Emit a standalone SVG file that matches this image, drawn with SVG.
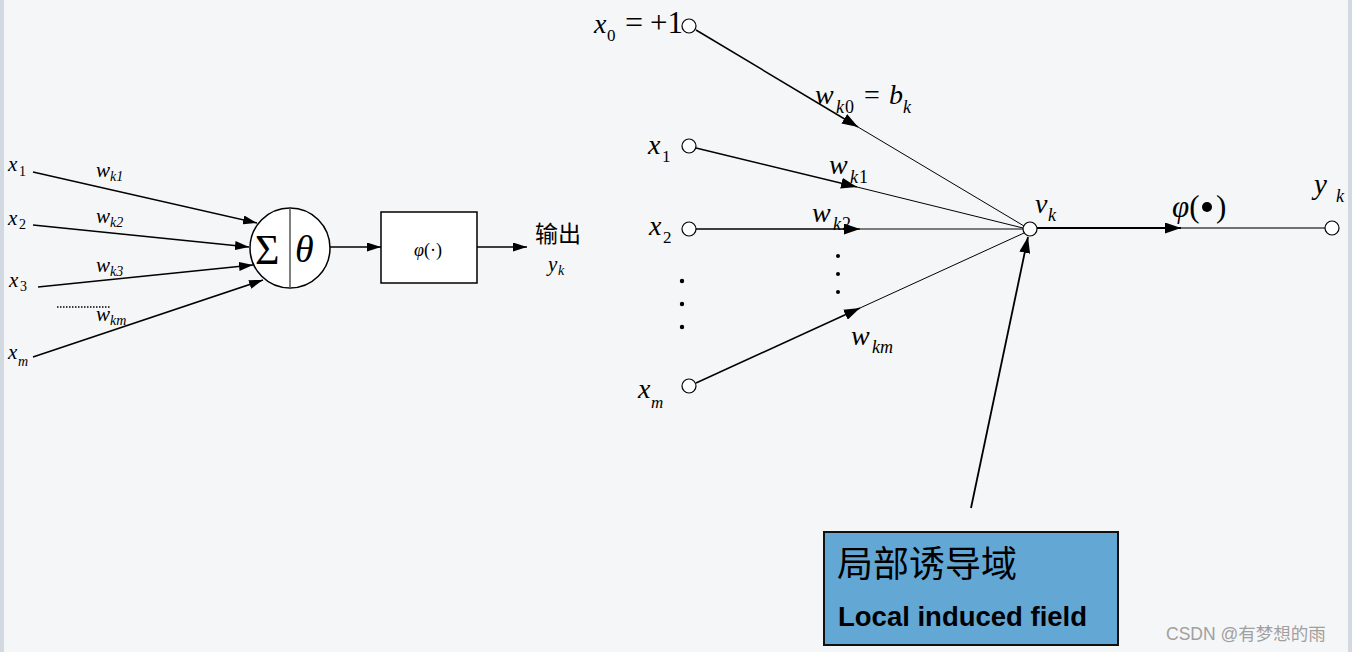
<svg xmlns="http://www.w3.org/2000/svg" width="1352" height="652" viewBox="0 0 1352 652">
<defs>
<style>
.it{font-family:"Liberation Serif",serif;font-style:italic;fill:#000}
.rm{font-family:"Liberation Serif",serif;fill:#000}
.ln{stroke:#000;fill:none}
.nd{fill:#fff;stroke:#000;stroke-width:1.2}
</style>
<marker id="ahs" viewBox="0 0 14 9" refX="14" refY="4.5" markerWidth="14" markerHeight="9" orient="auto" markerUnits="userSpaceOnUse"><path d="M0,0 L14,4.5 L0,9 z" fill="#000"/></marker>
<marker id="ahb" viewBox="0 0 16 11" refX="16" refY="5.5" markerWidth="16" markerHeight="11" orient="auto" markerUnits="userSpaceOnUse"><path d="M0,0 L16,5.5 L0,11 z" fill="#000"/></marker>
</defs>
<rect width="1352" height="652" fill="#f5f6f7"/>
<rect x="0" y="0" width="4" height="652" fill="#d3d9e0"/>
<rect x="1348" y="0" width="4" height="652" fill="#d3d9e0"/>

<!-- LEFT DIAGRAM -->
<g id="left-inputs">
<text class="it" x="8" y="171" font-size="21">x</text><text class="rm" x="19" y="176" font-size="14">1</text>
<text class="it" x="8" y="225" font-size="21">x</text><text class="rm" x="19" y="229" font-size="14">2</text>
<text class="it" x="9" y="287" font-size="21">x</text><text class="rm" x="20" y="291" font-size="14">3</text>
<text class="it" x="8" y="359" font-size="21">x</text><text class="it" x="18" y="366" font-size="14">m</text>
</g>
<g id="left-weights">
<text class="it" x="96" y="177" font-size="21">w</text><text class="it" x="110" y="181" font-size="14">k1</text>
<text class="it" x="96" y="223" font-size="21">w</text><text class="it" x="110" y="227" font-size="14">k2</text>
<text class="it" x="96" y="272" font-size="21">w</text><text class="it" x="110" y="276" font-size="14">k3</text>
<text class="it" x="96" y="321" font-size="21">w</text><text class="it" x="110" y="325" font-size="14">km</text>
<line x1="57" y1="307" x2="110" y2="307" stroke="#000" stroke-width="1.3" stroke-dasharray="1.5,1.5"/>
</g>
<g id="left-connectors">
<line class="ln" x1="33" y1="172" x2="257" y2="223" stroke-width="1.5" marker-end="url(#ahs)"/>
<line class="ln" x1="33" y1="225" x2="249" y2="247" stroke-width="1.5" marker-end="url(#ahs)"/>
<line class="ln" x1="38" y1="287" x2="253" y2="265" stroke-width="1.5" marker-end="url(#ahs)"/>
<line class="ln" x1="33" y1="357" x2="263" y2="280" stroke-width="1.5" marker-end="url(#ahs)"/>
<line class="ln" x1="330" y1="247" x2="381" y2="247" stroke-width="1.5" marker-end="url(#ahs)"/>
<line class="ln" x1="477" y1="247" x2="527" y2="247" stroke-width="1.5" marker-end="url(#ahs)"/>
</g>
<g id="sum-node">
<circle cx="290" cy="248" r="40" fill="#fff" stroke="#000" stroke-width="1.5"/>
<line x1="290" y1="208" x2="290" y2="288" stroke="#555" stroke-width="1.5"/>
<text class="rm" x="255" y="264" font-size="42">Σ</text>
<text class="it" x="295" y="262" font-size="38">θ</text>
</g>
<g id="phi-box">
<rect x="381" y="212" width="96" height="71" fill="#fff" stroke="#000" stroke-width="1.5"/>
<text class="it" x="414" y="256" font-size="18">φ<tspan font-style="normal">(·)</tspan></text>
</g>
<g id="output-left">
<text x="535" y="242" font-size="23" font-family="'Noto Sans CJK SC',sans-serif" fill="#000">输出</text>
<text class="it" x="548" y="271" font-size="21">y</text><text class="it" x="558" y="275" font-size="14">k</text>
</g>

<!-- RIGHT DIAGRAM -->
<g id="right-labels">
<text class="it" x="594" y="33" font-size="28">x</text><text class="rm" x="607" y="41" font-size="17">0</text>
<text class="rm" x="625" y="33" font-size="32">=</text><text class="rm" x="650" y="33" font-size="31">+1</text>
<text class="it" x="648" y="154" font-size="28">x</text><text class="rm" x="662" y="162" font-size="17">1</text>
<text class="it" x="649" y="235" font-size="28">x</text><text class="rm" x="663" y="243" font-size="17">2</text>
<text class="it" x="638" y="398" font-size="28">x</text><text class="it" x="651" y="408" font-size="17">m</text>
<text class="it" x="815" y="104" font-size="28">w</text><text class="it" x="836" y="113" font-size="18">k</text><text class="rm" x="845" y="113" font-size="18">0</text>
<text class="rm" x="864" y="104" font-size="28">=</text><text class="it" x="889" y="104" font-size="28">b</text><text class="it" x="903" y="113" font-size="18">k</text>
<text class="it" x="829" y="174" font-size="28">w</text><text class="it" x="850" y="183" font-size="18">k</text><text class="rm" x="859" y="183" font-size="18">1</text>
<text class="it" x="812" y="222" font-size="28">w</text><text class="it" x="833" y="230" font-size="18">k</text><text class="rm" x="842" y="230" font-size="18">2</text>
<text class="it" x="851" y="345" font-size="28">w</text><text class="it" x="872" y="353" font-size="18">km</text>
<text class="it" x="1035" y="213" font-size="28">v</text><text class="it" x="1048" y="221" font-size="18">k</text>
<text class="it" x="1172" y="217" font-size="31">φ<tspan font-style="normal">(</tspan></text>
<circle cx="1207" cy="207" r="5"/>
<text class="rm" x="1216" y="217" font-size="31">)</text>
<text class="it" x="1314" y="194" font-size="29">y</text><text class="it" x="1336" y="202" font-size="18">k</text>
</g>
<g id="dots">
<circle cx="682" cy="281" r="2.2"/><circle cx="682" cy="304" r="2.2"/><circle cx="682" cy="327" r="2.2"/>
<circle cx="838" cy="256" r="2"/><circle cx="838" cy="274" r="2"/><circle cx="838" cy="292" r="2"/>
</g>
<g id="right-connectors">
<line class="ln" x1="696" y1="30" x2="858" y2="127" stroke-width="1.5" marker-end="url(#ahb)"/>
<line class="ln" x1="858" y1="127" x2="1024" y2="226" stroke-width="1"/>
<line class="ln" x1="696" y1="148" x2="857" y2="187" stroke-width="1.5" marker-end="url(#ahb)"/>
<line class="ln" x1="857" y1="187" x2="1023" y2="228" stroke-width="1"/>
<line class="ln" x1="696" y1="229" x2="860" y2="229" stroke-width="1.5" marker-end="url(#ahb)"/>
<line class="ln" x1="860" y1="229" x2="1023" y2="229" stroke-width="1"/>
<line class="ln" x1="696" y1="383" x2="860" y2="308" stroke-width="1.5" marker-end="url(#ahb)"/>
<line class="ln" x1="860" y1="308" x2="1024" y2="233" stroke-width="1"/>
<line class="ln" x1="1037" y1="228" x2="1181" y2="228" stroke-width="2.2" marker-end="url(#ahb)"/>
<line x1="1181" y1="228" x2="1325" y2="228" stroke="#444" stroke-width="1.3"/>
<line class="ln" x1="971" y1="508" x2="1028" y2="237" stroke-width="1.8" marker-end="url(#ahb)"/>
</g>
<g id="right-nodes">
<circle class="nd" cx="689" cy="26" r="7"/>
<circle class="nd" cx="689" cy="146" r="7"/>
<circle class="nd" cx="689" cy="229" r="7"/>
<circle class="nd" cx="689" cy="386" r="7"/>
<circle class="nd" cx="1030" cy="229" r="7"/>
<circle class="nd" cx="1332" cy="228" r="7"/>
</g>
<g id="field-box">
<rect x="824" y="532" width="294" height="113" fill="#63a7d5" stroke="#111" stroke-width="2"/>
<text x="837" y="577" font-size="36" font-family="'Noto Sans CJK SC',sans-serif" fill="#000">局部诱导域</text>
<text x="838" y="626" font-size="27.5" font-weight="bold" font-family="'Liberation Sans',Arial,sans-serif" fill="#000">Local induced field</text>
</g>
<text x="1166" y="640" font-size="17.5" font-family="'Liberation Sans','Noto Sans CJK SC',sans-serif" fill="#a0a0a0">CSDN @有梦想的雨</text>
</svg>
